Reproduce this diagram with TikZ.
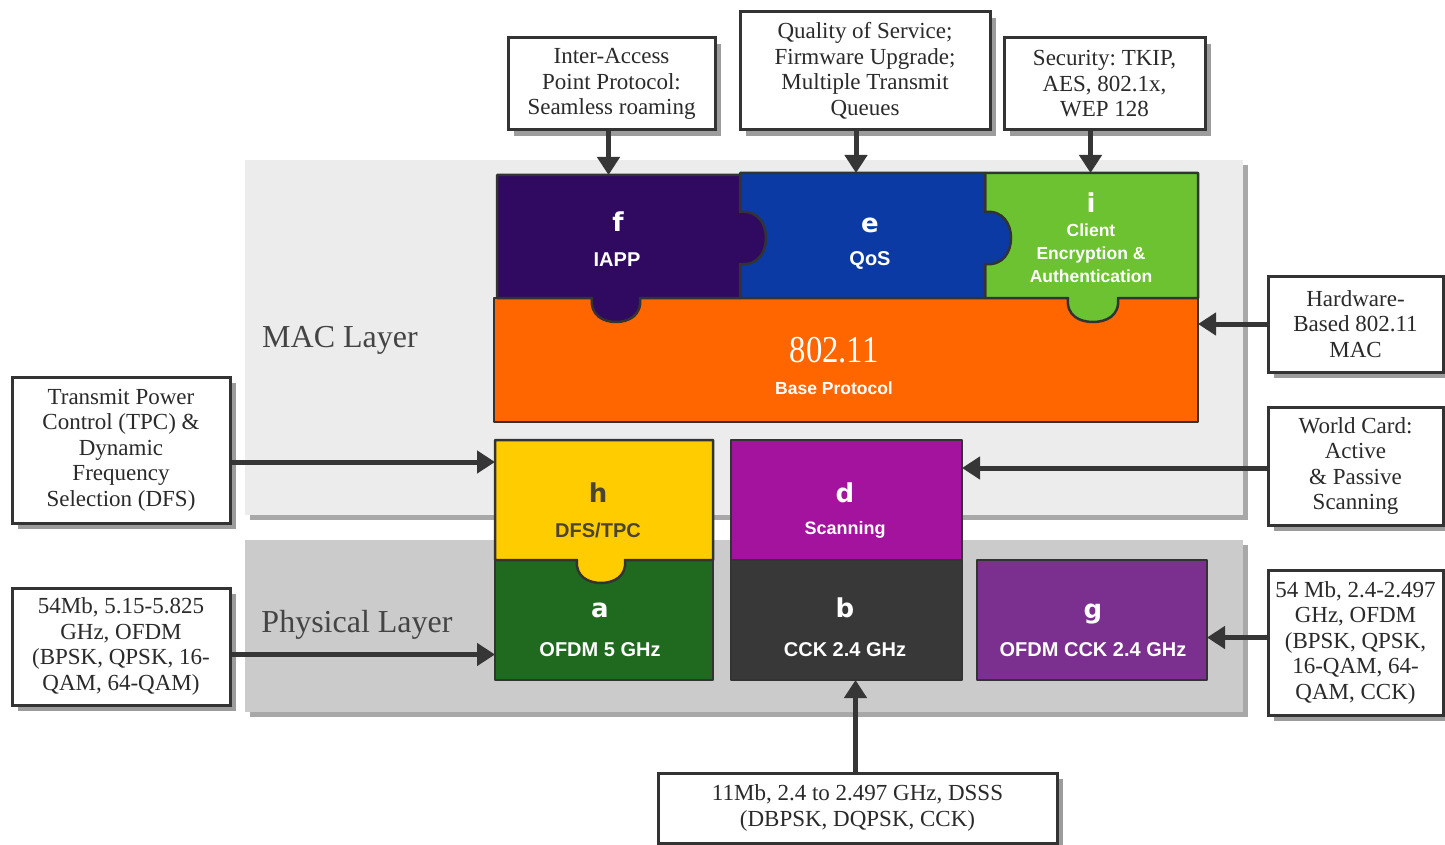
\documentclass[tikz,border=0pt]{standalone}
\usepackage{fontspec}
\setmainfont{Liberation Serif}
\newfontfamily\tagsans{Liberation Sans}
\newfontfamily\lettersans{DejaVu Sans}
\newfontfamily\narrowserif[FakeStretch=0.86]{Liberation Serif}
\usetikzlibrary{arrows.meta,shadows}
\frenchspacing

\definecolor{edgegray}{HTML}{333333}
\definecolor{arrowgray}{HTML}{363636}
\definecolor{notetext}{HTML}{2A2A2A}
\definecolor{shadowgray}{HTML}{9C9C9C}
\definecolor{macfill}{HTML}{ECECEC}
\definecolor{phyfill}{HTML}{CBCBCB}
\definecolor{panelshadow}{HTML}{A8A8A8}
\definecolor{layertext}{HTML}{444444}
\definecolor{cf}{HTML}{300A60}
\definecolor{ce}{HTML}{0B3AA5}
\definecolor{ci}{HTML}{6CC230}
\definecolor{cbase}{HTML}{FF6600}
\definecolor{ch}{HTML}{FFCC00}
\definecolor{ca}{HTML}{1F6A1F}
\definecolor{cd}{HTML}{A4139E}
\definecolor{cb}{HTML}{383838}
\definecolor{cg}{HTML}{7B2F8E}
\definecolor{htext}{HTML}{4A4430}

\begin{document}
\begin{tikzpicture}[x=1pt,y=-1pt,
  note/.style={draw=edgegray, line width=3pt, fill=white, align=center,
    font=\frenchspacing\fontsize{23}{25.5}\selectfont, text=notetext, inner sep=0pt,
    drop shadow={shadow xshift=6pt, shadow yshift=-6pt, fill=shadowgray, opacity=1}},
  area/.style={inner sep=0pt, outer sep=0pt, draw=none, fill=none},
  piece/.style={draw=edgegray, line width=2.5pt, line join=round},
  letter/.style={font=\lettersans\bfseries\fontsize{26}{30}\selectfont, text=white, inner sep=0pt},
  tag/.style={font=\tagsans\bfseries\fontsize{20}{23}\selectfont, text=white, align=center, inner sep=0pt},
  smalltag/.style={tag, font=\tagsans\bfseries\fontsize{17.5}{23}\selectfont},
  layertitle/.style={font=\fontsize{32}{36}\selectfont, text=layertext, inner sep=0pt},
  arrow/.style={draw=arrowgray, line width=5pt, -{Triangle[length=18pt,width=22pt]}}
]
\useasboundingbox (0,0) rectangle (1445,845);

% layer panels
\fill[panelshadow] (250,165) rectangle (1248,520);
\fill[macfill] (245,160) rectangle (1243,515);
\fill[panelshadow] (250,545) rectangle (1248,717);
\fill[phyfill] (245,540) rectangle (1243,712);
\node[layertitle] (maclabel) at (340,340) {MAC Layer};
\node[layertitle] (phylabel) at (357,625) {Physical Layer};

% MAC layer pieces
\draw[piece, fill=cbase] (494,298) rectangle (1198,422);
\draw[piece, fill=ci] (985,173) -- (1198,173) -- (1198,298) -- (1118,298)
  .. controls (1120,316) and (1106,322) .. (1093,322)
  .. controls (1080,322) and (1066,316) .. (1068,298) -- (985,298) -- cycle;
\draw[piece, fill=ce] (740,173) -- (985,173) -- (985,212)
  .. controls (1003,210) and (1011,224) .. (1011,238)
  .. controls (1011,252) and (1003,266) .. (985,264) -- (985,298) -- (740,298) -- cycle;
\draw[piece, fill=cf] (497,175) -- (740,175) -- (740,212)
  .. controls (758,210) and (766,224) .. (766,238)
  .. controls (766,252) and (758,266) .. (740,264) -- (740,298) -- (640,298)
  .. controls (642,316) and (628,322) .. (616,322)
  .. controls (604,322) and (590,316) .. (592,298) -- (497,298) -- cycle;

% physical layer pieces
\draw[piece, fill=ca] (495,560) rectangle (713,680);
\draw[piece, fill=ch] (495,440) -- (713,440) -- (713,560) -- (625,560)
  .. controls (627,577) and (613,583) .. (601,583)
  .. controls (589,583) and (575,577) .. (577,560) -- (495,560) -- cycle;
\draw[piece, fill=cd] (731,440) rectangle (962,560);
\draw[piece, fill=cb] (731,560) rectangle (962,680);
\draw[piece, fill=cg] (977,560) rectangle (1207,680);

% anchor areas of the pieces
\node[area, minimum width=243pt, minimum height=123pt] (f) at (618.5,236.5) {};
\node[area, minimum width=245pt, minimum height=125pt] (e) at (862.5,235.5) {};
\node[area, minimum width=213pt, minimum height=125pt] (i) at (1091.5,235.5) {};
\node[area, minimum width=704pt, minimum height=124pt] (base) at (846,360) {};
\node[area, minimum width=218pt, minimum height=120pt] (h) at (604,500) {};
\node[area, minimum width=231pt, minimum height=120pt] (d) at (846.5,500) {};
\node[area, minimum width=218pt, minimum height=120pt] (a) at (604,620) {};
\node[area, minimum width=231pt, minimum height=120pt] (b) at (846.5,620) {};
\node[area, minimum width=230pt, minimum height=120pt] (g) at (1092,620) {};

% piece labels
\node[letter] (fletter) at (618,222) {f};
\node[tag] (ftag) at (617,260) {IAPP};
\node[letter] (eletter) at (870,225) {e};
\node[tag] (etag) at (870,260) {QoS};
\node[letter] (iletter) at (1091,203) {i};
\node[smalltag] (itag) at (1091,253) {Client\\Encryption \&\\Authentication};
\node[font=\narrowserif\fontsize{38}{40}\selectfont, text=white, inner sep=0pt] (basenum) at (834,350) {802.11};
\node[smalltag] (basetag) at (834,388) {Base Protocol};
\node[letter, text=htext] (hletter) at (598,493) {h};
\node[tag, text=htext] (htag) at (598,530) {DFS/TPC};
\node[letter] (dletter) at (845,493) {d};
\node[tag, font=\tagsans\bfseries\fontsize{18}{23}\selectfont] (dtag) at (845,530) {Scanning};
\node[letter] (aletter) at (600,610) {a};
\node[tag] (atag) at (600,650) {OFDM 5 GHz};
\node[letter] (bletter) at (845,608) {b};
\node[tag] (btag) at (845,650) {CCK 2.4 GHz};
\node[letter] (gletter) at (1093,614) {g};
\node[tag] (gtag) at (1093,650) {OFDM CCK 2.4 GHz};

% feature notes
\node[note, minimum width=207pt, minimum height=92pt] (iappnote) at (611.5,84)
  {Inter-Access\\Point Protocol:\\Seamless roaming};
\node[note, minimum width=250pt, minimum height=118pt] (qosnote) at (865,71)
  {Quality of Service;\\Firmware Upgrade;\\Multiple Transmit\\Queues};
\node[note, minimum width=201pt, minimum height=92pt] (secnote) at (1104.5,84)
  {Security: TKIP,\\AES, 802.1x,\\WEP 128};
\node[note, minimum width=175pt, minimum height=96pt] (hwnote) at (1355.5,324)
  {Hardware-\\Based 802.11\\MAC};
\node[note, minimum width=175pt, minimum height=118pt] (worldnote) at (1355.5,466)
  {World Card:\\Active\\\& Passive\\Scanning};
\node[note, minimum width=175pt, minimum height=145pt] (gnote) at (1355.5,642.5)
  {54 Mb, 2.4-2.497\\GHz, OFDM\\(BPSK, QPSK,\\16-QAM, 64-\\QAM, CCK)};
\node[note, minimum width=218pt, minimum height=146pt] (tpcnote) at (121,450)
  {Transmit Power\\Control (TPC) \&\\Dynamic\\Frequency\\Selection (DFS)};
\node[note, minimum width=218pt, minimum height=117pt] (anote) at (121,646.5)
  {54Mb, 5.15-5.825\\GHz, OFDM\\(BPSK, QPSK, 16-\\QAM, 64-QAM)};
\node[note, minimum width=399pt, minimum height=70pt] (bnote) at (857.5,808)
  {11Mb, 2.4 to 2.497 GHz, DSSS\\(DBPSK, DQPSK, CCK)};

% connectors
\draw[arrow] ([xshift=-3pt]iappnote.south) -- ([xshift=-3pt]iappnote.south |- f.north);
\draw[arrow] ([xshift=-9pt]qosnote.south) -- ([xshift=-9pt]qosnote.south |- e.north);
\draw[arrow] ([xshift=-14pt]secnote.south) -- ([xshift=-14pt]secnote.south |- i.north);
\draw[arrow] (hwnote.west) -- (hwnote.west -| base.east);
\draw[arrow] ([yshift=-2pt]worldnote.west) -- ([yshift=-2pt]worldnote.west -| d.east);
\draw[arrow] ([yshift=5pt]gnote.west) -- ([yshift=5pt]gnote.west -| g.east);
\draw[arrow] ([yshift=-12pt]tpcnote.east) -- ([yshift=-12pt]tpcnote.east -| h.west);
\draw[arrow] ([yshift=-8pt]anote.east) -- ([yshift=-8pt]anote.east -| a.west);
\draw[arrow] ([xshift=-2pt]bnote.north) -- ([xshift=-2pt]bnote.north |- b.south);
\end{tikzpicture}
\end{document}
